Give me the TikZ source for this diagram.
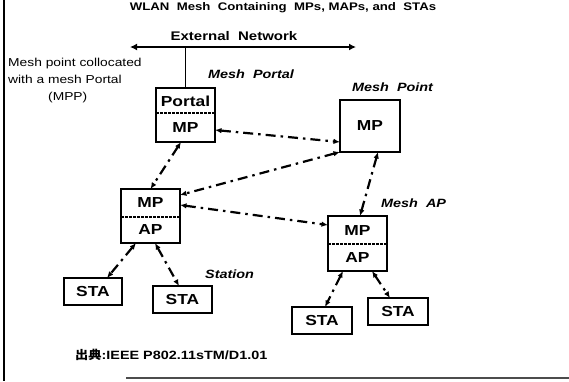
\documentclass[tikz,border=0pt]{standalone}
\usepackage{fontspec}
\setmainfont{Liberation Sans}[FakeStretch=1.2]
\newfontfamily\cjk{Noto Sans CJK JP}[FakeStretch=1.1]
\usetikzlibrary{arrows.meta,calc}
\begin{document}
\begin{tikzpicture}[x=1pt,y=-1pt,
  box/.style={draw, line width=2pt, inner sep=0pt, outer sep=0pt},
  sep/.style={line width=1.4pt, dash pattern=on 3pt off 1pt},
  link/.style={line width=2.2pt, dash pattern=on 10pt off 5pt on 2.5pt off 5pt,
    {Latex[length=6.5pt,width=5.5pt]}-{Latex[length=6.5pt,width=5.5pt]}},
  boxtxt/.style={font=\bfseries\fontsize{14.5}{14.5}\selectfont, inner sep=0pt},
  tag/.style={font=\bfseries\itshape\fontsize{12}{12}\selectfont, inner sep=0pt},
  plain/.style={font=\fontsize{11.5}{17}\selectfont, inner sep=0pt}]
\useasboundingbox (0,0) rectangle (569,381);

% frame lines
\draw[line width=2.2pt] (4,0) -- (4,381);
\draw[line width=1.6pt, black!70] (126,378) -- (569,378);

% title
\node[anchor=base, font=\bfseries\fontsize{11}{11}\selectfont, inner sep=0pt] (title) at (283,10)
  {WLAN\ \ Mesh\ \ Containing\ \ MPs,\ MAPs,\ and\ \ STAs};

% external network
\node[anchor=base, font=\bfseries\fontsize{12.5}{12.5}\selectfont, inner sep=0pt] (extlbl) at (234,40) {External\ \ Network};
\coordinate (extL) at (130,47);
\coordinate (extR) at (356,47);
\coordinate (extP) at (185.5,47);
\draw[line width=2.2pt, {Latex[length=7pt,width=7pt]}-{Latex[length=7pt,width=7pt]}] (extL) -- (extR);

% boxes
\node[box, minimum width=59pt, minimum height=54pt] (portal) at (185.5,115) {};
\node[box, minimum width=60pt, minimum height=52pt] (mpt) at (370,126) {};
\node[box, minimum width=59pt, minimum height=54pt] (mapL) at (150.5,216) {};
\node[box, minimum width=59pt, minimum height=55pt] (mapR) at (357.5,243.5) {};
\node[box, minimum width=58pt, minimum height=27pt] (sta1) at (93,291.5) {};
\node[box, minimum width=59pt, minimum height=27pt] (sta2) at (182.5,299.5) {};
\node[box, minimum width=60pt, minimum height=27pt] (sta3) at (322,320.5) {};
\node[box, minimum width=60pt, minimum height=27pt] (sta4) at (398,311.5) {};

\draw[line width=1.8pt] (extP) -- (portal.north);

% separators
\draw[sep] ($(portal.west)+(0,-2)$) -- ($(portal.east)+(0,-2)$);
\draw[sep] ($(mapL.west)+(0,1)$) -- ($(mapL.east)+(0,1)$);
\draw[sep] ($(mapR.west)+(0,0.5)$) -- ($(mapR.east)+(0,0.5)$);

% box texts
\node[boxtxt] (portalT) at ($(portal.center)+(0,-14)$) {Portal};
\node[boxtxt] (portalB) at ($(portal.center)+(0,13)$) {MP};
\node[boxtxt] (mptT) at (mpt.center) {MP};
\node[boxtxt] (mapLT) at ($(mapL.center)+(0,-13)$) {MP};
\node[boxtxt] (mapLB) at ($(mapL.center)+(0,14)$) {AP};
\node[boxtxt] (mapRT) at ($(mapR.center)+(0,-13)$) {MP};
\node[boxtxt] (mapRB) at ($(mapR.center)+(0,14)$) {AP};
\node[boxtxt] (sta1T) at (sta1.center) {STA};
\node[boxtxt] (sta2T) at (sta2.center) {STA};
\node[boxtxt] (sta3T) at (sta3.center) {STA};
\node[boxtxt] (sta4T) at (sta4.center) {STA};

% tags
\node[tag, anchor=base west] (tagPortal) at (208,78) {Mesh\ \ Portal};
\node[tag, anchor=base west] (tagPoint) at (352,91) {Mesh\ \ Point};
\node[tag, anchor=base west] (tagAP) at (381,207) {Mesh\ \ AP};
\node[tag, anchor=base west] (tagSta) at (205,278) {Station};

\node[plain, anchor=base west, align=left] (mpp) at (8,100)
  {Mesh point collocated\\with a mesh Portal\\\hspace*{40pt}(MPP)};

\node[anchor=base west, font=\bfseries\fontsize{12}{12}\selectfont, inner sep=0pt] (src) at (75,359)
  {{\cjk\bfseries 出典}:IEEE P802.11sTM/D1.01};

% links
\draw[link] ($(portal.east)+(0,15)$) -- ($(mpt.west)+(0,16)$);
\draw[link] (mpt.south west) -- ($(mapL.east)+(0,-21)$);
\draw[link] ($(portal.south)+(-4.5,0)$) -- (mapL.north);
\draw[link] ($(mapL.east)+(0,-11)$) -- ($(mapR.west)+(0,-18.5)$);
\draw[link] ($(mpt.south)+(8,0)$) -- ($(mapR.north)+(2.5,0)$);
\draw[link] ($(mapL.south)+(-14.5,0)$) -- ($(sta1.north)+(14,0)$);
\draw[link] ($(mapL.south)+(4.5,0)$) -- ($(sta2.north)+(-3.5,0)$);
\draw[link] ($(mapR.south)+(-14.5,0)$) -- ($(sta3.north)+(3,0)$);
\draw[link] ($(mapR.south)+(14.5,0)$) -- ($(sta4.north)+(-8,0)$);
\end{tikzpicture}
\end{document}
